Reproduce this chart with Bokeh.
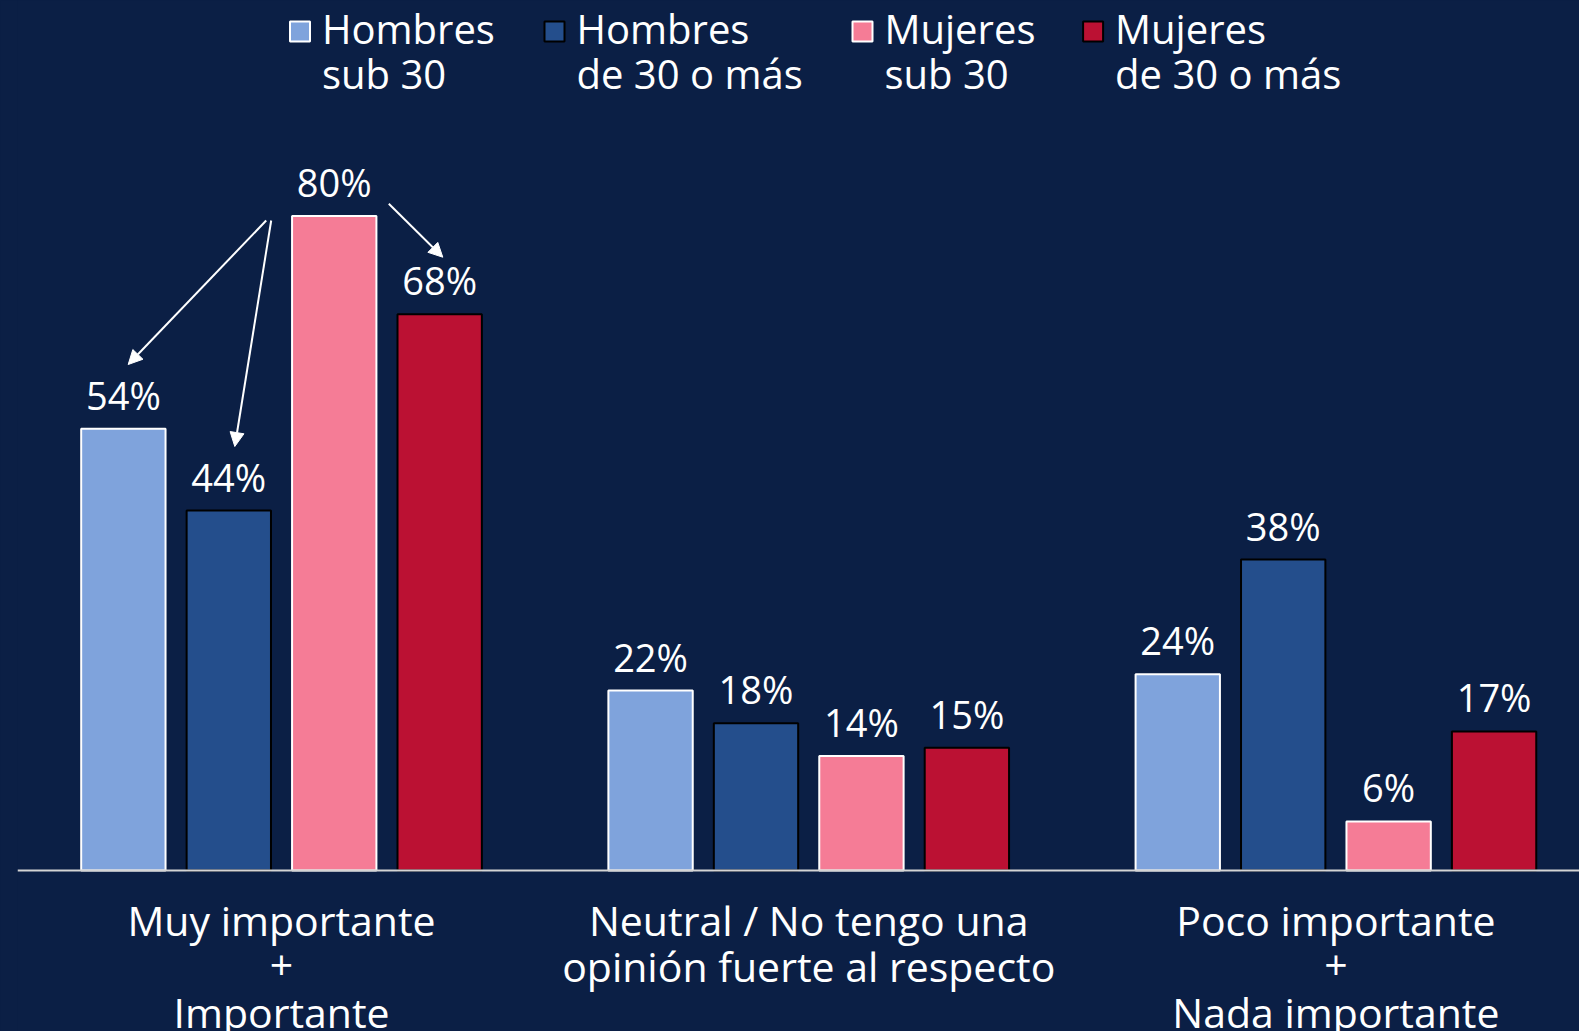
from bokeh.plotting import figure
from bokeh.models import Range1d, Span, Arrow, NormalHead
from bokeh.core.properties import value
from bokeh.embed import file_html
from bokeh.resources import INLINE

# ---------------- data ----------------
categories = [
    "Muy importante\n+\nImportante",
    "Neutral / No tengo una\nopinión fuerte al respecto",
    "Poco importante\n+\nNada importante",
]
series_names = ["Hombres\nsub 30", "Hombres\nde 30 o más", "Mujeres\nsub 30", "Mujeres\nde 30 o más"]
hombres_sub30 = [54, 22, 24]
hombres_30mas = [44, 18, 38]
mujeres_sub30 = [80, 14, 6]
mujeres_30mas = [68, 15, 17]
series_values = [hombres_sub30, hombres_30mas, mujeres_sub30, mujeres_30mas]

# ---------------- style ----------------
BG = "#0b1f45"
fills = ["#7fa3dc", "#244e8c", "#f57c96", "#bb1133"]
outlines = ["white", "black", "white", "black"]
FONT = value("Open Sans")

W, H = 1579, 1031
LEFT = 17
BASE = 870
PPX = 527.2          # pixels per category unit
PPY = 8.18125        # pixels per percent
X0 = -0.5008         # data x at left frame edge
x_end = X0 + (W - LEFT) / PPX
y_end = BASE / PPY
y_start = -(H - BASE) / PPY
TXT_SHIFT = -14      # baseline correction (px)


def X(px):
    return X0 + (px - LEFT) / PPX


def Y(py):
    return (BASE - py) / PPY


p = figure(width=W, height=H, output_backend="svg", toolbar_location=None,
           x_range=Range1d(X0, x_end), y_range=Range1d(y_start, y_end),
           min_border_left=LEFT, min_border_right=0, min_border_top=0, min_border_bottom=0)
p.background_fill_color = BG
p.border_fill_color = BG
p.outline_line_color = None
p.axis.visible = False
p.grid.visible = False

offsets = [-0.3, -0.1, 0.1, 0.3]
n = len(categories)
for k, vals in enumerate(series_values):
    xs = [i + offsets[k] for i in range(n)]
    p.vbar(x=xs, top=vals, bottom=0, width=0.16, fill_color=fills[k],
           line_color=outlines[k], line_width=2)
    p.text(x=xs, y=vals, text=[f"{v}%" for v in vals], text_align="center",
           text_baseline="alphabetic", y_offset=-20 + TXT_SHIFT, text_color="white",
           text_font=FONT, text_font_size="38px")

# baseline
p.add_layout(Span(location=0, dimension="width", line_color="#d4d4d4", line_width=2))

# category labels
cx, cy, ct, co = [], [], [], []
for i, cat in enumerate(categories):
    for j, line in enumerate(cat.split("\n")):
        cx.append(i)
        cy.append(0)
        ct.append(line)
        co.append(63 + TXT_SHIFT + 46 * j)
p.text(x=cx, y=cy, text=ct, y_offset=co, text_align="center", text_baseline="alphabetic",
       text_color="white", text_font=FONT, text_font_size="41px")

# legend
legend_px = [299.5, 554.0, 862.0, 1092.6]
for k, name in enumerate(series_names):
    p.scatter(x=[X(legend_px[k])], y=[Y(31)], marker="square", size=20,
              fill_color=fills[k], line_color=outlines[k], line_width=2)
    lines = name.split("\n")
    p.text(x=[X(legend_px[k] + 22)] * len(lines), y=[Y(42.3 + TXT_SHIFT)] * len(lines), text=lines,
           y_offset=[45 * j for j in range(len(lines))], text_align="left",
           text_baseline="alphabetic", text_color="white", text_font=FONT,
           text_font_size="40px")

# arrows
arrows = [((265.7, 220), (127.7, 364)), ((270.7, 220), (234.3, 446)), ((388.3, 203.3), (442.3, 256.7))]
for (sx, sy), (ex, ey) in arrows:
    p.add_layout(Arrow(x_start=X(sx), y_start=Y(sy), x_end=X(ex), y_end=Y(ey),
                       line_color="white", line_width=2,
                       end=NormalHead(size=14, fill_color="white", line_color="white")))

html = file_html(p, INLINE)
style = f"<style>html,body{{background-color:{BG} !important;margin:0 !important;overflow:hidden;}}</style>"
html = html.replace("</head>", style + "</head>", 1)
open("out.html", "w").write(html)
